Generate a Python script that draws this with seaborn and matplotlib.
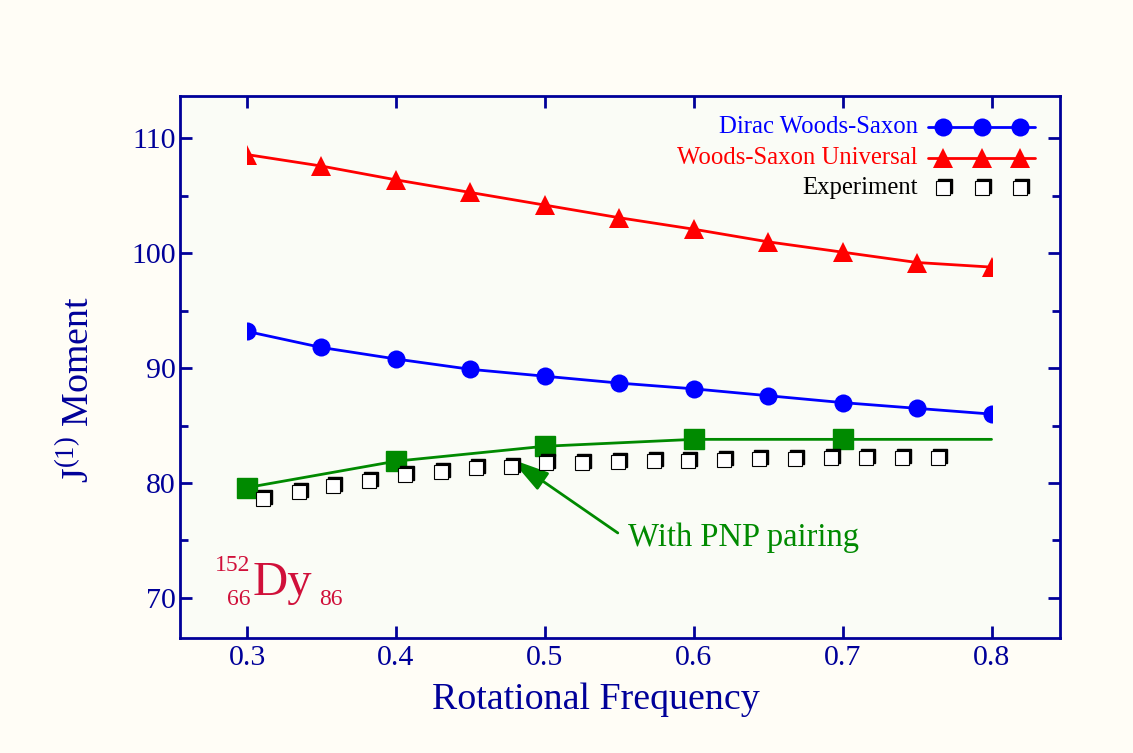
import numpy as np
import matplotlib
matplotlib.use('Agg')
import matplotlib.pyplot as plt
import matplotlib.transforms as mtransforms
from matplotlib.patches import Rectangle
from matplotlib.ticker import MultipleLocator
import seaborn as sns

# data
freq = [0.30, 0.35, 0.40, 0.45, 0.50, 0.55, 0.60, 0.65, 0.70, 0.75, 0.80]
ws_universal = [108.6, 107.6, 106.4, 105.3, 104.2, 103.1, 102.1, 101.0, 100.1, 99.2, 98.8]
dirac_ws = [93.2, 91.8, 90.8, 89.9, 89.3, 88.7, 88.2, 87.6, 87.0, 86.5, 86.0]

pnp_freq = [0.30, 0.40, 0.50, 0.60, 0.70]
pnp_moment = [79.6, 81.9, 83.2, 83.8, 83.8]
pnp_line_freq = [0.30, 0.40, 0.50, 0.60, 0.70, 0.80]
pnp_line_moment = [79.6, 81.9, 83.2, 83.8, 83.8, 83.8]

exp_freq = [0.311, 0.335, 0.358, 0.382, 0.406, 0.430, 0.454, 0.477, 0.501, 0.525,
            0.549, 0.573, 0.596, 0.620, 0.644, 0.668, 0.692, 0.716, 0.740, 0.764]
exp_moment = [78.6, 79.2, 79.7, 80.2, 80.7, 81.0, 81.3, 81.4, 81.7, 81.7,
              81.8, 81.9, 81.9, 82.0, 82.1, 82.1, 82.2, 82.2, 82.2, 82.2]

legend_labels = ['Dirac Woods-Saxon', 'Woods-Saxon Universal', 'Experiment']

navy = '#000099'
bg = '#fffdf6'
green = '#008a00'

sns.set_style('ticks')
plt.rcParams['font.family'] = ['Liberation Serif', 'DejaVu Serif']
plt.rcParams['mathtext.fontset'] = 'custom'
plt.rcParams['mathtext.rm'] = 'Liberation Serif'

fig = plt.figure(figsize=(11.33, 7.53), dpi=100, facecolor=bg)
ax = fig.add_axes([0.1589, 0.1527, 0.7767, 0.7198])
ax.set_facecolor('#fafcf6')

# clip the theory curves to the calculated frequency range
clip_tr = mtransforms.blended_transform_factory(ax.transData, ax.transAxes)
clip_rect = Rectangle((0.3, 0), 0.5, 1, transform=clip_tr)

sns.lineplot(x=freq, y=ws_universal, ax=ax, color='red', marker='^', markersize=14,
             markeredgewidth=0, linewidth=2.0)
ax.lines[-1].set_clip_path(clip_rect)
sns.lineplot(x=freq, y=dirac_ws, ax=ax, color='blue', marker='o', markersize=13,
             markeredgewidth=0, linewidth=2.0)
ax.lines[-1].set_clip_path(clip_rect)

sns.lineplot(x=pnp_line_freq, y=pnp_line_moment, ax=ax, color=green, linewidth=2.0)
ax.plot(pnp_freq, pnp_moment, 's', color=green, markersize=14, zorder=4)

# experiment: open squares with a shadow
shadow = mtransforms.offset_copy(ax.transData, fig=fig, x=2, y=2, units='dots')
ax.plot(exp_freq, exp_moment, 's', color='black', markersize=10, transform=shadow, zorder=5)
ax.plot(exp_freq, exp_moment, 's', markerfacecolor='white', markeredgecolor='black',
        markeredgewidth=0.8, markersize=10, zorder=6)

ax.set_xlim(0.255, 0.846)
ax.set_ylim(66.5, 113.7)
ax.set_xticks([0.3, 0.4, 0.5, 0.6, 0.7, 0.8])
ax.set_xticklabels(['0.3', '0.4', '0.5', '0.6', '0.7', '0.8'])
ax.yaxis.set_major_locator(MultipleLocator(10))
ax.yaxis.set_minor_locator(MultipleLocator(5))
ax.tick_params(which='both', direction='in', top=True, right=True, color=navy,
               labelcolor=navy, labelsize=21.5, width=2)
ax.tick_params(which='major', length=8.5)
ax.tick_params(which='minor', length=5.5)
ax.tick_params(axis='x', pad=5)
ax.tick_params(axis='y', pad=3)
for s in ax.spines.values():
    s.set_color(navy)
    s.set_linewidth(2)

ax.set_xlabel('Rotational Frequency', fontsize=27.3, color=navy)
ax.set_ylabel(r'J$^{(1)}$ Moment', fontsize=27.3, color=navy)
ax.xaxis.set_label_coords(0.4727, -0.082)
ax.yaxis.set_label_coords(-0.094, 0.459)

# legend drawn by hand so the markers sit inside the line sample
leg_rows = [0.9428, 0.8856, 0.8303]
leg_marks = [0.867, 0.911, 0.9545]
tA = ax.transAxes
shadowA = mtransforms.offset_copy(tA, fig=fig, x=2, y=2, units='dots')
ax.text(0.8386, leg_rows[0], legend_labels[0], transform=tA, ha='right', va='center',
        fontsize=17.8, color='blue')
ax.plot([0.85, 0.9716], [leg_rows[0]] * 2, color='blue', lw=2, transform=tA)
ax.plot(leg_marks, [leg_rows[0]] * 3, 'o', color='blue', ms=13, mew=0, transform=tA)
ax.text(0.8386, leg_rows[1], legend_labels[1], transform=tA, ha='right', va='center',
        fontsize=17.8, color='red')
ax.plot([0.85, 0.9716], [leg_rows[1]] * 2, color='red', lw=2, transform=tA)
ax.plot(leg_marks, [leg_rows[1]] * 3, '^', color='red', ms=14, mew=0, transform=tA)
ax.text(0.8386, leg_rows[2], legend_labels[2], transform=tA, ha='right', va='center',
        fontsize=17.8, color='black')
ax.plot(leg_marks, [leg_rows[2]] * 3, 's', color='black', ms=10, transform=shadowA)
ax.plot(leg_marks, [leg_rows[2]] * 3, 's', mfc='white', mec='black', mew=0.8, ms=10,
        transform=tA)

# annotation
ax.text(0.556, 75.2, 'With PNP pairing', fontsize=23.5, color=green, va='center', ha='left')
ax.annotate('', xy=(0.477, 82.1), xytext=(0.549, 75.65),
            arrowprops=dict(arrowstyle='-|>,head_length=1.2,head_width=0.32',
                            color=green, lw=2, mutation_scale=20, shrinkA=0, shrinkB=0))

# nucleus label
crimson = '#d0103a'
ax.text(0.3035, 70.25, 'Dy', fontsize=35, color=crimson, va='baseline', ha='left')
ax.text(0.3025, 72.35, '152', fontsize=17, color=crimson, va='baseline', ha='right')
ax.text(0.3025, 69.4, '66', fontsize=17, color=crimson, va='baseline', ha='right')
ax.text(0.3483, 69.4, '86', fontsize=17, color=crimson, va='baseline', ha='left')

fig.savefig('out.png', dpi=100, facecolor=bg)
